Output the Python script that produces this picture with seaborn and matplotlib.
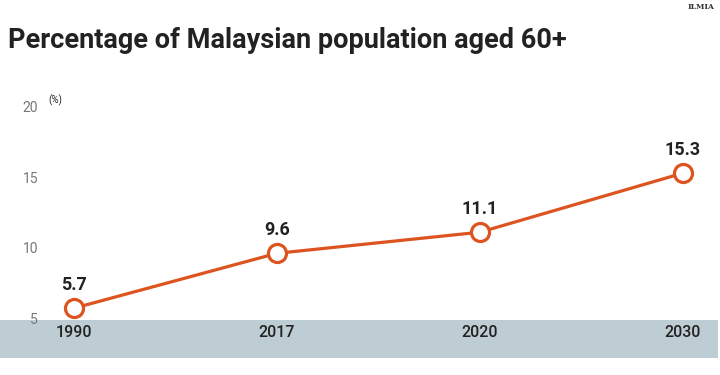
import matplotlib
matplotlib.use("Agg")
import matplotlib.pyplot as plt
from matplotlib.patches import Rectangle
import seaborn as sns
import pandas as pd

years = ["1990", "2017", "2020", "2030"]
share_60_plus = [5.7, 9.6, 11.1, 15.3]
y_ticks = [5, 10, 15, 20]

LINE_COLOR = "#DD5420"
BAND_COLOR = "#BECDD4"

sns.set_theme(style="white")
plt.rcParams["font.family"] = ["Roboto", "DejaVu Sans"]

df = pd.DataFrame({"year": years, "pct": share_60_plus})

W, H = 720, 375
fig = plt.figure(figsize=(W / 100, H / 100), dpi=100)
fig.patch.set_facecolor("white")

# grey band behind the year labels
fig.patches.append(Rectangle((0, 17 / H), 718 / W, 38 / H, transform=fig.transFigure,
                             facecolor=BAND_COLOR, edgecolor="none", zorder=-1))

ax = fig.add_axes([40 / W, (H - 320) / H, (718 - 40) / W, (320 - 60) / H])
ax.set_facecolor("none")
ax.set_zorder(1)

sns.lineplot(data=df, x="year", y="pct", ax=ax, color=LINE_COLOR, linewidth=2.3,
             marker="o", markersize=13, markerfacecolor="white",
             markeredgecolor=LINE_COLOR, markeredgewidth=2.3, clip_on=False)

px_per_unit = 203.0
ax.set_xlim(-(74 - 40) / px_per_unit, (718 - 74) / px_per_unit)
unit = 15 / 211
ax.set_ylim(5 - 2 * unit, 20 + 47 * unit)

ax.set_yticks(y_ticks)
ax.tick_params(axis="y", length=0, pad=1.5, labelsize=10, labelcolor="#777777")
ax.tick_params(axis="x", length=0, pad=3.5, labelsize=11.5, labelcolor="#222222")
for lab in ax.get_xticklabels():
    lab.set_fontweight("medium")
ax.set_xlabel("")
ax.set_ylabel("")
for s in ax.spines.values():
    s.set_visible(False)

for i, v in enumerate(share_60_plus):
    ax.annotate(f"{v}", (i, v), xytext=(0, 10), textcoords="offset points",
                ha="center", va="bottom", fontsize=13, fontweight="bold", color="#222222")

ax.annotate("(%)", (0, 20), xycoords=("axes fraction", "data"), xytext=(6, 1),
            textcoords="offset points", fontsize=7, color="#222222", va="bottom")

fig.text(8 / W, 1 - 48 / H, "Percentage of Malaysian population aged 60+",
         fontsize=19.5, fontweight="bold", color="#222222", ha="left", va="baseline")
fig.text(714 / W, 1 - 9 / H, "ILMIA", fontsize=5.5, fontweight="bold",
         color="#333333", ha="right", va="baseline", family=["DejaVu Serif"])

fig.savefig("out.png", dpi=100)
